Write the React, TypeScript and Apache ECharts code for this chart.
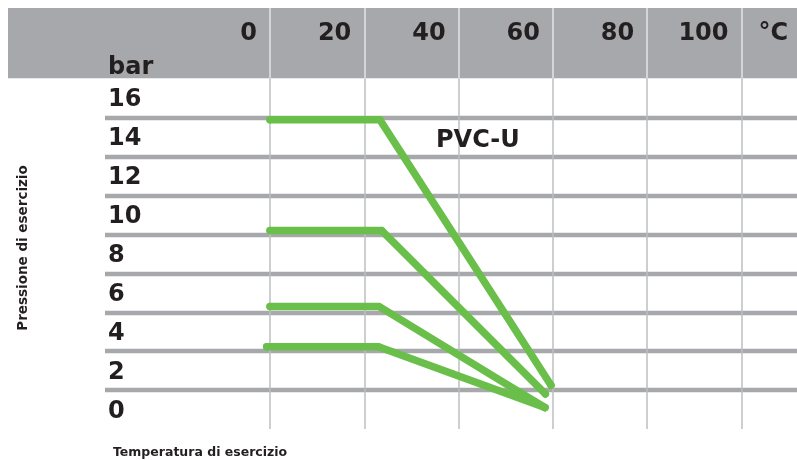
import React, { useEffect, useRef } from "react";
import * as echarts from "echarts";

// ---- data ----
const xTickValues = [0, 20, 40, 60, 80, 100];
const yTickValues = [0, 2, 4, 6, 8, 10, 12, 14, 16];
const rowLineValues = [1, 3, 5, 7, 9, 11, 13, 15];
const curveA = [
  [0, 14.9],
  [23.3, 14.9],
  [59.6, 1.25],
];
const curveB = [
  [0, 9.2],
  [23.7, 9.2],
  [58.4, 0.8],
];
const curveC = [
  [0, 5.3],
  [23.1, 5.3],
  [58.3, 0.1],
];
const curveD = [
  [-0.7, 3.23],
  [23.0, 3.23],
  [58.3, 0.1],
];

// ---- layout ----
const W = 797;
const H = 460;
const GRID_L = 8;
const GRID_T = 8;
const GRID_R = 0;
const GRID_B = 31;
const X_ZERO_PX = 270;
const PX_PER_DEG = 4.715;
const Y_ZERO_PX = 409.5;
const PX_PER_BAR = 19.45;
const xMin = (GRID_L - X_ZERO_PX) / PX_PER_DEG;
const xMax = (W - GRID_R - X_ZERO_PX) / PX_PER_DEG;
const yMin = (Y_ZERO_PX - (H - GRID_B)) / PX_PER_BAR;
const yMax = (Y_ZERO_PX - GRID_T) / PX_PER_BAR;
const bandBottom = (Y_ZERO_PX - 78.3) / PX_PER_BAR;
const rowLineStart = (105 - X_ZERO_PX) / PX_PER_DEG;

const FONT = '"DejaVu Sans", sans-serif';
const TEXT = "#231f20";
const GREEN = "#6abf4b";
const LINE_W = 7.5;

export default function App() {
  const ref = useRef<HTMLDivElement>(null);
  useEffect(() => {
    const chart = echarts.init(ref.current!, null, { renderer: "svg" });
    const labelBase = {
      fontFamily: FONT,
      fontWeight: "bold",
      fontSize: 24,
      color: TEXT,
    };
    const curve = (data: number[][]) => ({
      type: "line",
      data,
      z: 5,
      symbol: "circle",
      symbolSize: LINE_W,
      showSymbol: true,
      showAllSymbol: true,
      silent: true,
      itemStyle: { color: GREEN, borderWidth: 0 },
      lineStyle: { color: GREEN, width: LINE_W, cap: "round", join: "round" },
    });
    chart.setOption({
      animation: false,
      grid: { left: GRID_L, right: GRID_R, top: GRID_T, bottom: GRID_B },
      xAxis: {
        type: "value",
        position: "top",
        min: xMin,
        max: xMax,
        axisLine: { show: false },
        axisTick: { show: false },
        splitLine: { show: false },
        axisLabel: {
          ...labelBase,
          customValues: xTickValues,
          inside: true,
          margin: 24,
          align: "right",
          verticalAlign: "middle",
          padding: [0, 13, 0, 0],
        },
      },
      yAxis: {
        type: "value",
        min: yMin,
        max: yMax,
        axisLine: { show: false },
        axisTick: { show: false },
        splitLine: { show: false },
        axisLabel: {
          ...labelBase,
          customValues: yTickValues,
          inside: true,
          margin: 100,
          align: "left",
          verticalAlign: "middle",
        },
      },
      series: [
        {
          type: "line",
          data: [],
          silent: true,
          markArea: {
            silent: true,
            z: 0,
            itemStyle: { color: "#a7a8ab" },
            label: { show: false },
            data: [[{ coord: [xMin, bandBottom] }, { coord: [xMax, yMax] }]],
          },
        },
        {
          type: "line",
          data: [],
          silent: true,
          markLine: {
            silent: true,
            z: 1,
            symbol: ["none", "none"],
            label: { show: false },
            emphasis: { disabled: true },
            lineStyle: { color: "#a7a8ab", width: 4.3, type: "solid" },
            data: rowLineValues.map((v) => [
              { coord: [rowLineStart, v] },
              { coord: [xMax, v] },
            ]),
          },
        },
        {
          type: "line",
          data: [],
          silent: true,
          markLine: {
            silent: true,
            z: 2,
            symbol: ["none", "none"],
            label: { show: false },
            emphasis: { disabled: true },
            lineStyle: { color: "#bdbec1", width: 1.5, type: "solid" },
            data: xTickValues.map((v) => [
              { coord: [v, yMin] },
              { coord: [v, bandBottom] },
            ]),
          },
        },
        {
          type: "line",
          data: [],
          silent: true,
          markLine: {
            silent: true,
            z: 2,
            symbol: ["none", "none"],
            label: { show: false },
            emphasis: { disabled: true },
            lineStyle: { color: "#e4e5e6", width: 1.5, type: "solid" },
            data: xTickValues.map((v) => [
              { coord: [v, bandBottom] },
              { coord: [v, yMax] },
            ]),
          },
        },
        curve(curveA),
        curve(curveB),
        curve(curveC),
        curve(curveD),
      ],
      graphic: [
        {
          type: "text",
          x: 788,
          y: 32,
          z: 100,
          style: { text: "°C", ...labelBase, fill: TEXT, textAlign: "right", textVerticalAlign: "middle" },
        },
        {
          type: "text",
          x: 108,
          y: 66,
          z: 100,
          style: { text: "bar", ...labelBase, fill: TEXT, textAlign: "left", textVerticalAlign: "middle" },
        },
        {
          type: "text",
          x: 436,
          y: 138.5,
          z: 100,
          style: { text: "PVC-U", ...labelBase, fill: TEXT, textAlign: "left", textVerticalAlign: "middle" },
        },
        {
          type: "text",
          x: 21.5,
          y: 248,
          z: 100,
          rotation: Math.PI / 2,
          style: {
            text: "Pressione di esercizio",
            fontFamily: FONT,
            fontWeight: "bold",
            fontSize: 13.5,
            fill: TEXT,
            textAlign: "center",
            textVerticalAlign: "middle",
          },
        },
        {
          type: "text",
          x: 113,
          y: 451,
          z: 100,
          style: {
            text: "Temperatura di esercizio",
            fontFamily: FONT,
            fontWeight: "bold",
            fontSize: 12.5,
            fill: TEXT,
            textAlign: "left",
            textVerticalAlign: "middle",
          },
        },
      ],
    });
    return () => chart.dispose();
  }, []);
  return (
    <div
      ref={ref}
      style={{ position: "fixed", left: 0, top: 0, width: W, height: H }}
    />
  );
}
